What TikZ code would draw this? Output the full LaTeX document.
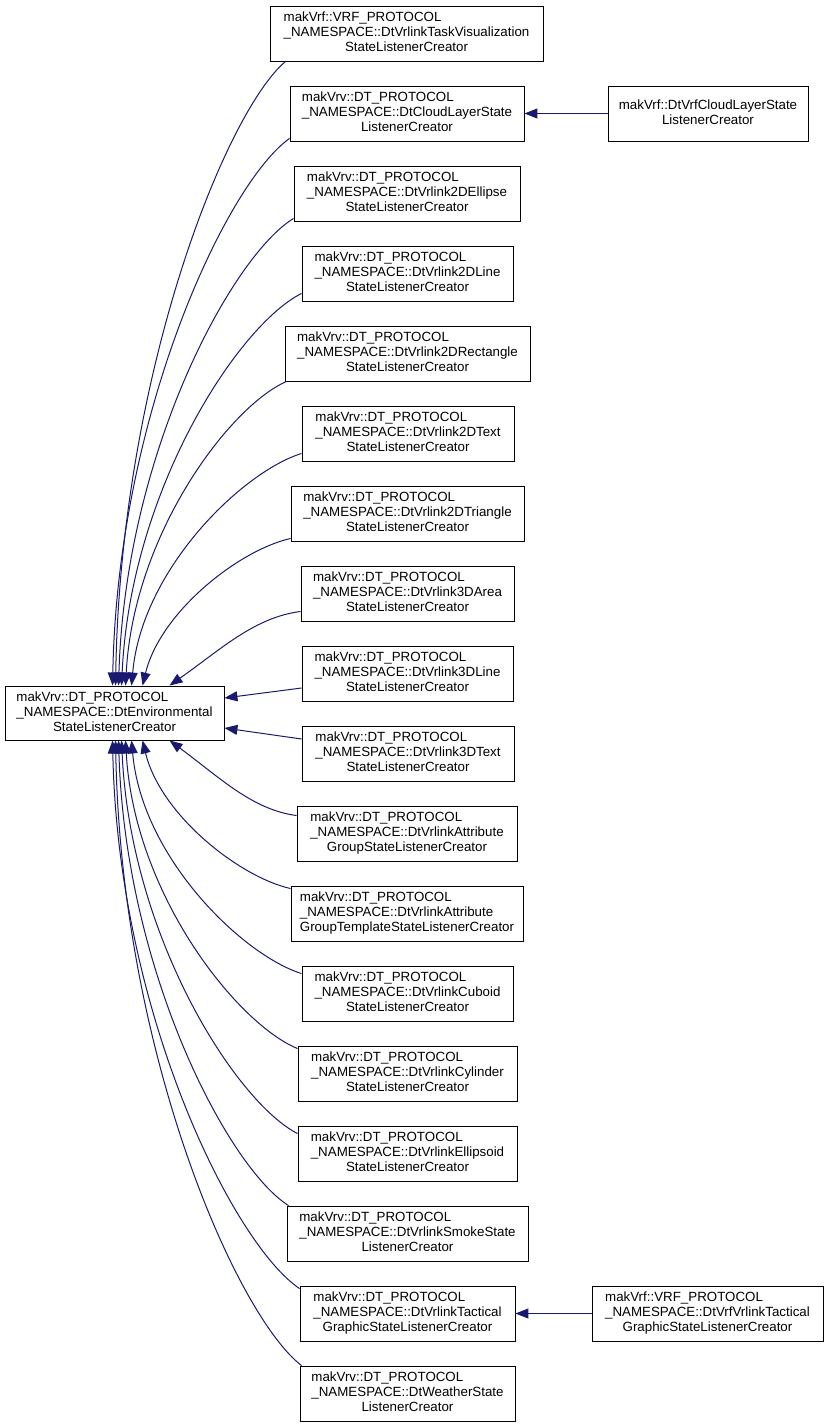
\documentclass[tikz,border=0pt]{standalone}
\usepackage{fontspec}
\setmainfont{Liberation Sans}
\usetikzlibrary{arrows.meta,calc}
\definecolor{edgecol}{RGB}{25,25,112}
\newcommand\lblthree[3]{\begin{tabular}{@{}l@{}}#1\\#2\\\multicolumn{1}{@{}c@{}}{#3}\end{tabular}}
\newcommand\lbltwo[2]{\begin{tabular}{@{}c@{}}#1\\#2\end{tabular}}
\newcommand\uedge[2]{\draw[edge] let \p1=(s#1), \p2=(t#1) in (s#1) .. controls ({\x1-0.35*(\x1-\x2)},{\y1+0.08*(\y2-\y1)}) and ({\x2+#2*(\x1-\x2)},{0.5*\y1+0.5*\y2}) .. (t#1);}
\begin{document}
\begin{tikzpicture}[x=1pt,y=1pt,
 cls/.style={draw=black, line width=0.9pt, fill=white, inner sep=0pt, minimum height=55pt, font=\fontsize{13.33}{15}\selectfont, align=center},
 edge/.style={draw=edgecol, line width=1pt, -{Triangle[length=13pt,width=10pt,fill=edgecol]}}]
\useasboundingbox (0,0) rectangle (829,-1427);

\node[cls, minimum width=219pt, minimum height=54pt] (main) at (114.5,-713) {\lblthree{makVrv::DT\_PROTOCOL}{\_NAMESPACE::DtEnvironmental}{StateListenerCreator}};

\node[cls, minimum width=273pt] (b0) at (406.5,-33.5) {\lblthree{makVrf::VRF\_PROTOCOL}{\_NAMESPACE::DtVrlinkTaskVisualization}{StateListenerCreator}};
\node[cls, minimum width=234pt] (b1) at (407,-113.5) {\lblthree{makVrv::DT\_PROTOCOL}{\_NAMESPACE::DtCloudLayerState}{ListenerCreator}};
\node[cls, minimum width=226pt] (b2) at (407,-193.5) {\lblthree{makVrv::DT\_PROTOCOL}{\_NAMESPACE::DtVrlink2DEllipse}{StateListenerCreator}};
\node[cls, minimum width=211pt] (b3) at (407.5,-273.5) {\lblthree{makVrv::DT\_PROTOCOL}{\_NAMESPACE::DtVrlink2DLine}{StateListenerCreator}};
\node[cls, minimum width=245pt] (b4) at (407.5,-353.5) {\lblthree{makVrv::DT\_PROTOCOL}{\_NAMESPACE::DtVrlink2DRectangle}{StateListenerCreator}};
\node[cls, minimum width=212pt] (b5) at (408,-433.5) {\lblthree{makVrv::DT\_PROTOCOL}{\_NAMESPACE::DtVrlink2DText}{StateListenerCreator}};
\node[cls, minimum width=233pt] (b6) at (407.5,-513.5) {\lblthree{makVrv::DT\_PROTOCOL}{\_NAMESPACE::DtVrlink2DTriangle}{StateListenerCreator}};
\node[cls, minimum width=213pt] (b7) at (407.5,-593.5) {\lblthree{makVrv::DT\_PROTOCOL}{\_NAMESPACE::DtVrlink3DArea}{StateListenerCreator}};
\node[cls, minimum width=211pt] (b8) at (407.5,-673.5) {\lblthree{makVrv::DT\_PROTOCOL}{\_NAMESPACE::DtVrlink3DLine}{StateListenerCreator}};
\node[cls, minimum width=212pt] (b9) at (408,-753.5) {\lblthree{makVrv::DT\_PROTOCOL}{\_NAMESPACE::DtVrlink3DText}{StateListenerCreator}};
\node[cls, minimum width=220pt] (b10) at (407,-833.5) {\lblthree{makVrv::DT\_PROTOCOL}{\_NAMESPACE::DtVrlinkAttribute}{GroupStateListenerCreator}};
\node[cls, minimum width=232pt] (b11) at (407,-913.5) {\lblthree{makVrv::DT\_PROTOCOL}{\_NAMESPACE::DtVrlinkAttribute}{GroupTemplateStateListenerCreator}};
\node[cls, minimum width=211pt] (b12) at (407.5,-993.5) {\lblthree{makVrv::DT\_PROTOCOL}{\_NAMESPACE::DtVrlinkCuboid}{StateListenerCreator}};
\node[cls, minimum width=219pt] (b13) at (407.5,-1073.5) {\lblthree{makVrv::DT\_PROTOCOL}{\_NAMESPACE::DtVrlinkCylinder}{StateListenerCreator}};
\node[cls, minimum width=219pt] (b14) at (407.5,-1153.5) {\lblthree{makVrv::DT\_PROTOCOL}{\_NAMESPACE::DtVrlinkEllipsoid}{StateListenerCreator}};
\node[cls, minimum width=241pt] (b15) at (407.5,-1233.5) {\lblthree{makVrv::DT\_PROTOCOL}{\_NAMESPACE::DtVrlinkSmokeState}{ListenerCreator}};
\node[cls, minimum width=215pt] (b16) at (407.5,-1313.5) {\lblthree{makVrv::DT\_PROTOCOL}{\_NAMESPACE::DtVrlinkTactical}{GraphicStateListenerCreator}};
\node[cls, minimum width=215pt] (b17) at (407.5,-1393.5) {\lblthree{makVrv::DT\_PROTOCOL}{\_NAMESPACE::DtWeatherState}{ListenerCreator}};

\node[cls, minimum width=200pt] (cloud) at (708,-113.5) {\lbltwo{makVrf::DtVrfCloudLayerState}{ListenerCreator}};
\node[cls, minimum width=231pt] (tacvrf) at (707.5,-1313.5) {\lblthree{makVrf::VRF\_PROTOCOL}{\_NAMESPACE::DtVrfVrlinkTactical}{GraphicStateListenerCreator}};

% start points
\coordinate (s0) at ([xshift=16pt]b0.south west);
\coordinate (s1) at ([yshift=3pt]b1.south west);
\coordinate (s2) at ([yshift=3pt]b2.south west);
\coordinate (s3) at ([yshift=8pt]b3.south west);
\coordinate (s4) at ([xshift=2pt]b4.south west);
\coordinate (s5) at ([yshift=8pt]b5.south west);
\coordinate (s6) at ([yshift=3pt]b6.south west);
\coordinate (s7) at ([yshift=10pt]b7.south west);
\coordinate (s10) at ([yshift=-10pt]b10.north west);
\coordinate (s11) at ([yshift=-3pt]b11.north west);
\coordinate (s12) at ([yshift=-8pt]b12.north west);
\coordinate (s13) at ([yshift=-3pt]b13.north west);
\coordinate (s14) at ([yshift=-8pt]b14.north west);
\coordinate (s15) at ([xshift=2pt]b15.north west);
\coordinate (s16) at ([yshift=-3pt]b16.north west);
\coordinate (s17) at ([xshift=2pt]b17.north west);

% tips
\coordinate (t0) at ([xshift=111pt]main.north west);
\coordinate (t1) at ([xshift=108pt]main.north west);
\coordinate (t2) at ([xshift=114pt]main.north west);
\coordinate (t3) at ([xshift=117pt]main.north west);
\coordinate (t4) at ([xshift=121pt]main.north west);
\coordinate (t5) at ([xshift=127pt]main.north west);
\coordinate (t6) at ([xshift=138pt]main.north west);
\coordinate (t7) at ([xshift=165pt]main.north west);
\coordinate (t10) at ([xshift=165pt]main.south west);
\coordinate (t11) at ([xshift=138pt]main.south west);
\coordinate (t12) at ([xshift=127pt]main.south west);
\coordinate (t13) at ([xshift=121pt]main.south west);
\coordinate (t14) at ([xshift=117pt]main.south west);
\coordinate (t15) at ([xshift=114pt]main.south west);
\coordinate (t16) at ([xshift=108pt]main.south west);
\coordinate (t17) at ([xshift=111pt]main.south west);

\uedge{0}{0.03}
\uedge{1}{0.03}
\uedge{2}{0.04}
\uedge{3}{0.05}
\uedge{4}{0.05}
\uedge{5}{0.06}
\uedge{6}{0.12}
\uedge{7}{0.4}
\uedge{10}{0.4}
\uedge{11}{0.12}
\uedge{12}{0.06}
\uedge{13}{0.05}
\uedge{14}{0.05}
\uedge{15}{0.04}
\uedge{16}{0.03}
\uedge{17}{0.03}

\draw[edge] ([yshift=-14.5pt]b8.west) -- ([yshift=15pt]main.east);
\draw[edge] ([yshift=14.5pt]b9.west) -- ([yshift=-15pt]main.east);
\draw[edge] (cloud.west) -- (b1.east);
\draw[edge] (tacvrf.west) -- (b16.east);
\end{tikzpicture}
\end{document}
